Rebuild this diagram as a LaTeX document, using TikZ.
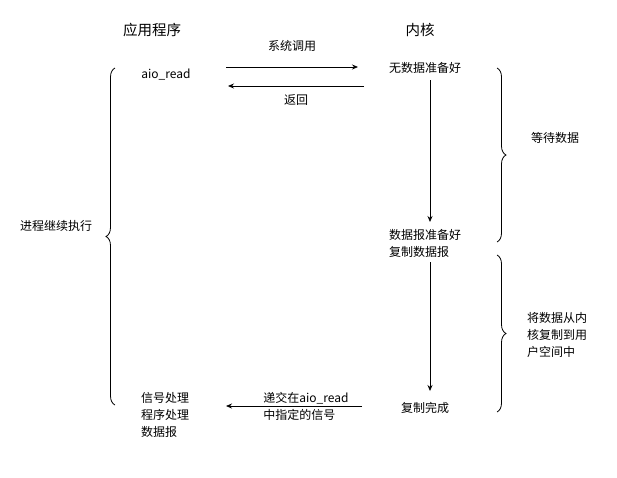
\documentclass[tikz,border=0pt]{standalone}
\usepackage{fontspec}
\setmainfont{Noto Sans CJK SC}
\usetikzlibrary{decorations.pathreplacing,arrows.meta}
\begin{document}
\begin{tikzpicture}[x=1pt,y=-1pt,
  t/.style={inner sep=0pt,font=\fontsize{12}{17}\selectfont},
  h/.style={inner sep=0pt,font=\fontsize{14.5}{16}\selectfont},
  ar/.style={-{Stealth[length=6pt,width=5pt]},line width=0.8pt},
  br/.style={decorate,decoration={brace,amplitude=9pt},line width=0.8pt}]
\useasboundingbox[fill=white] (0,0) rectangle (617,477);
\node[h] (app) at (152,30) {应用程序};
\node[h] (kern) at (420,30) {内核};
\node[t] (aio) at (166,75) {aio\_read};
\node[t] (nd) at (425,68) {无数据准备好};
\node[t,align=left] (dr) at (425,243) {数据报准备好\\复制数据报};
\node[t] (done) at (425,408) {复制完成};
\node[t,align=left,anchor=west] (sig) at (141,415) {信号处理\\程序处理\\数据报};
\coordinate (a1) at (226,67); \coordinate (a2) at (358,67);
\draw[ar] (a1) -- node[t,above=15pt] (l1) {系统调用} (a2);
\coordinate (b1) at (364,86); \coordinate (b2) at (228,86);
\draw[ar] (b1) -- node[t,below=8pt] (l2) {返回} (b2);
\coordinate (v1) at (430,80); \coordinate (v2) at (430,222);
\draw[ar] (v1) -- (v2);
\coordinate (w1) at (430,262); \coordinate (w2) at (430,391);
\draw[ar] (w1) -- (w2);
\coordinate (c1) at (362,406); \coordinate (c2) at (226,406);
\draw[ar] (c1) -- (c2);
\node[t,align=left] (l3) at (306,406) {递交在aio\_read\\中指定的信号};
\coordinate (L1) at (115,68); \coordinate (L2) at (115,405);
\draw[br] (L2) -- (L1);
\node[t] (lt) at (56,226) {进程继续执行};
\coordinate (R1) at (497,68); \coordinate (R2) at (497,242);
\draw[br] (R1) -- (R2);
\node[t] (rt1) at (555,138) {等待数据};
\coordinate (S1) at (497,255); \coordinate (S2) at (497,412);
\draw[br] (S1) -- (S2);
\node[t,align=left,anchor=west] (rt2) at (527,335) {将数据从内\\核复制到用\\户空间中};
\end{tikzpicture}
\end{document}
